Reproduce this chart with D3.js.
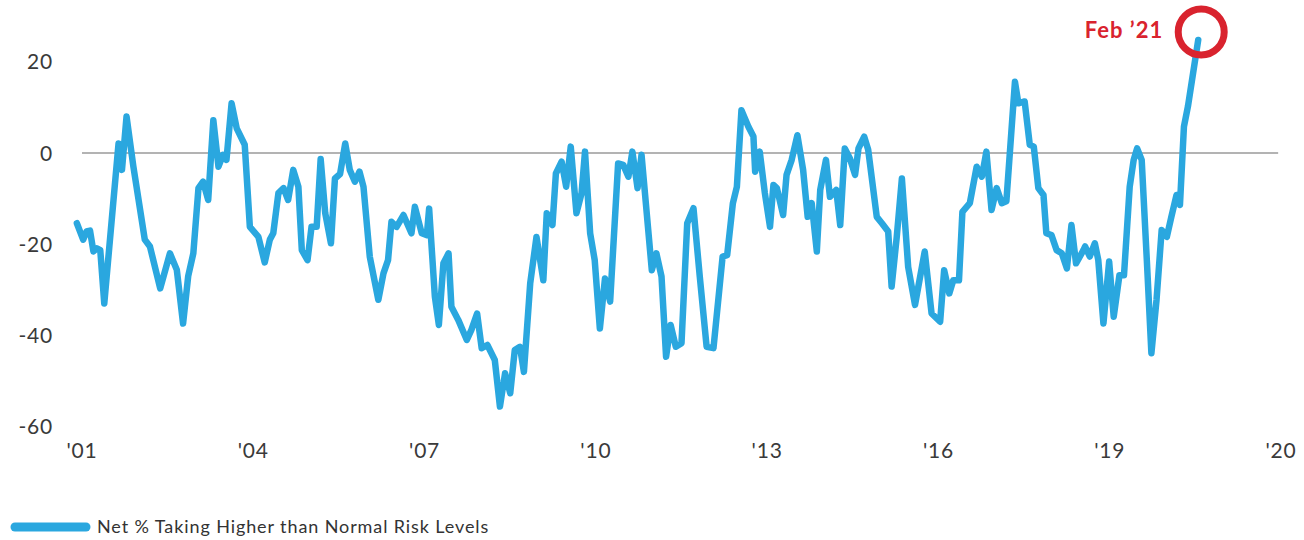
<!DOCTYPE html>
<meta charset="utf-8">
<head>
<style>
  body { margin: 0; background: #fff; }
  svg { display: block; }
  .tick-label {
    font-family: Lato, sans-serif;
    font-size: 21px;
    letter-spacing: 0.8px;
    fill: #3a3a3a;
  }
  .legend-label {
    font-family: Lato, sans-serif;
    font-size: 18px;
    letter-spacing: 0.9px;
    fill: #333;
  }
  .callout {
    font-family: Lato, sans-serif;
    font-size: 22px;
    font-weight: 700;
    letter-spacing: 1px;
    fill: #d9232e;
  }
</style>
<script src="https://d3js.org/d3.v7.min.js"></script>
</head>
<body>
<svg width="1304" height="540"></svg>
<script>
// decimal years
var dates = [
  2000.91, 2001.02, 2001.08, 2001.14, 2001.20, 2001.26, 2001.32, 2001.39, 2001.64, 2001.70,
  2001.78, 2001.90, 2002.10, 2002.19, 2002.37, 2002.54, 2002.66, 2002.77, 2002.86, 2002.95,
  2003.04, 2003.12, 2003.21, 2003.30, 2003.39, 2003.47, 2003.53, 2003.62, 2003.71, 2003.85,
  2003.94, 2004.09, 2004.20, 2004.29, 2004.35, 2004.44, 2004.53, 2004.61, 2004.70, 2004.79,
  2004.85, 2004.95, 2005.02, 2005.11, 2005.18, 2005.26, 2005.36, 2005.43, 2005.52, 2005.61,
  2005.69, 2005.78, 2005.86, 2005.93, 2006.04, 2006.19, 2006.28, 2006.36, 2006.42, 2006.51,
  2006.63, 2006.77, 2006.83, 2006.95, 2007.04, 2007.08, 2007.18, 2007.25, 2007.33, 2007.42,
  2007.47, 2007.59, 2007.74, 2007.82, 2007.92, 2008.00, 2008.10, 2008.23, 2008.32, 2008.41,
  2008.50, 2008.58, 2008.67, 2008.74, 2008.85, 2008.96, 2009.08, 2009.14, 2009.24, 2009.30,
  2009.40, 2009.48, 2009.56, 2009.66, 2009.75, 2009.81, 2009.90, 2009.98, 2010.07, 2010.16,
  2010.25, 2010.39, 2010.48, 2010.57, 2010.64, 2010.73, 2010.80, 2010.98, 2011.06, 2011.15,
  2011.23, 2011.31, 2011.40, 2011.50, 2011.60, 2011.71, 2011.82, 2011.94, 2012.06, 2012.22,
  2012.30, 2012.40, 2012.47, 2012.55, 2012.67, 2012.76, 2012.79, 2012.87, 2012.96, 2013.05,
  2013.11, 2013.17, 2013.28, 2013.34, 2013.43, 2013.53, 2013.63, 2013.71, 2013.78, 2013.87,
  2013.93, 2014.03, 2014.10, 2014.21, 2014.28, 2014.36, 2014.45, 2014.54, 2014.60, 2014.70,
  2014.77, 2014.92, 2015.01, 2015.12, 2015.18, 2015.27, 2015.36, 2015.47, 2015.59, 2015.76,
  2015.88, 2016.03, 2016.10, 2016.19, 2016.26, 2016.36, 2016.42, 2016.55, 2016.67, 2016.76,
  2016.84, 2016.93, 2017.02, 2017.11, 2017.19, 2017.34, 2017.40, 2017.51, 2017.60, 2017.67,
  2017.75, 2017.84, 2017.89, 2017.98, 2018.07, 2018.16, 2018.25, 2018.33, 2018.41, 2018.54,
  2018.57, 2018.65, 2018.74, 2018.80, 2018.89, 2018.99, 2019.07, 2019.17, 2019.25, 2019.35,
  2019.42, 2019.48, 2019.56, 2019.65, 2019.73, 2019.82, 2019.91, 2020.00, 2020.08, 2020.17,
  2020.23, 2020.30, 2020.37, 2020.55
];
var values = [
  -15.4, -19, -17.2, -17, -21.6, -20.9, -21.3, -33, 2.1, -3.7,
  8, -3, -19, -20.5, -29.7, -22, -25.6, -37.4, -27, -22,
  -7.7, -6.3, -10.3, 7.2, -3, -0.4, -1.5, 10.9, 5.4, 1.8,
  -16.2, -18.4, -24, -19, -17.6, -8.8, -7.7, -10.3, -3.7, -7.4,
  -21.3, -23.5, -16.2, -16.2, -1.3, -13.2, -19.8, -5.6, -4.6, 2.1,
  -3.7, -6.3, -4.1, -7.4, -22.7, -32.2, -26.4, -23.5, -15.1, -16.2,
  -13.6, -17.6, -11.8, -17.6, -18, -12.2, -31.5, -37.7, -24.2, -22,
  -33.7, -36.6, -41, -38.8, -35.2, -42.8, -42.1, -45.4, -55.6, -48.3,
  -52.7, -43.2, -42.5, -48, -28.6, -18.4, -27.9, -13.2, -15.8, -4.5,
  -1.9, -7.4, 1.4, -13.2, -8.8, 0.3, -17.6, -23.5, -38.5, -27.5,
  -32.6, -2.3, -2.6, -5.2, 0.3, -7.7, -0.4, -25.7, -22, -27.1,
  -44.7, -37.7, -42.5, -41.7, -15.4, -12.1, -27.1, -42.5, -42.8, -22.7,
  -22.4, -11, -7.4, 9.4, 5.8, 3.6, -4.1, 0.3, -8.8, -16.2,
  -7, -7.7, -13.6, -4.8, -1.5, 3.9, -3.7, -14, -11, -21.6,
  -8.1, -1.5, -9.6, -8.1, -15.8, 1.0, -1.2, -4.8, 1.0, 3.6,
  0.7, -14, -15.4, -17.2, -29.3, -18.4, -5.6, -25, -33.3, -21.6,
  -35.2, -37, -25.7, -30.8, -27.9, -27.9, -12.9, -11, -3, -5.2,
  0.3, -12.5, -7.7, -11, -10.6, 15.6, 10.9, 11.3, 1.8, 1.4,
  -7.7, -9.2, -17.6, -18, -21.3, -22, -25.3, -15.8, -24.2, -21.3,
  -20.5, -22.7, -19.8, -23.5, -37.4, -23.8, -35.9, -26.8, -26.8, -7.4,
  -1.5, 1.0, -1.5, -23.5, -43.9, -32.2, -16.9, -18.4, -14, -9.2,
  -11.4, 5.8, 10.2, 24.8
];
var xTicks = [2001, 2004, 2007, 2010, 2013, 2016, 2019, 2022];
var xTickLabels = ["'01", "'04", "'07", "'10", "'13", "'16", "'19", "'20"];
var yTicks = [20, 0, -20, -40, -60];
var seriesName = "Net % Taking Higher than Normal Risk Levels";
var calloutText = "Feb \u201921";

var svg = d3.select("svg");

var x = d3.scaleLinear().domain([2001, 2022]).range([82, 1281]);
var y = d3.scaleLinear().domain([-60, 20]).range([426.6, 61.8]);

var blue = "#2aa7df";

// y labels
svg.append("g")
  .selectAll("text")
  .data(yTicks)
  .enter().append("text")
    .attr("class", "tick-label")
    .attr("x", 53)
    .attr("y", function(d) { return y(d); })
    .attr("dy", "0.36em")
    .attr("text-anchor", "end")
    .text(function(d) { return d; });

// x labels
svg.append("g")
  .selectAll("text")
  .data(xTicks)
  .enter().append("text")
    .attr("class", "tick-label")
    .attr("x", function(d) { return x(d); })
    .attr("y", 458)
    .attr("text-anchor", "middle")
    .text(function(d, i) { return xTickLabels[i]; });

// zero line
svg.append("line")
  .attr("x1", x(2001))
  .attr("x2", x(2021.95))
  .attr("y1", y(0))
  .attr("y2", y(0))
  .attr("stroke", "#9a9a9a")
  .attr("stroke-width", 1.5);

var points = dates.map(function(d, i) { return [d, values[i]]; });

var line = d3.line()
  .x(function(d) { return x(d[0]); })
  .y(function(d) { return y(d[1]); });

svg.append("path")
  .datum(points)
  .attr("d", line)
  .attr("fill", "none")
  .attr("stroke", blue)
  .attr("stroke-width", 6.5)
  .attr("stroke-linejoin", "round")
  .attr("stroke-linecap", "round");

// callout on last point
var last = points[points.length - 1];
var cx = x(last[0]) + 3, cy = y(last[1]) - 8;
svg.append("circle")
  .attr("cx", cx)
  .attr("cy", cy)
  .attr("r", 23)
  .attr("fill", "none")
  .attr("stroke", "#d9232e")
  .attr("stroke-width", 7);
svg.append("text")
  .attr("class", "callout")
  .attr("x", cx - 38)
  .attr("y", cy + 6)
  .attr("text-anchor", "end")
  .text(calloutText);

// legend
svg.append("line")
  .attr("x1", 15).attr("x2", 86)
  .attr("y1", 527).attr("y2", 527)
  .attr("stroke", blue)
  .attr("stroke-width", 9)
  .attr("stroke-linecap", "round");
svg.append("text")
  .attr("class", "legend-label")
  .attr("x", 97)
  .attr("y", 533)
  .text(seriesName);
</script>
</body>
